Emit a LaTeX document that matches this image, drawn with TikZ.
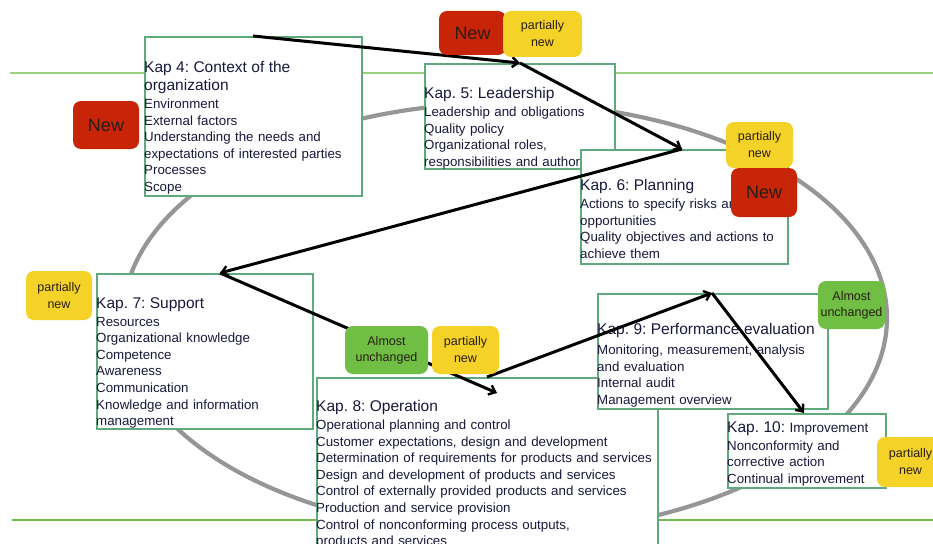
\documentclass[tikz,border=0pt]{standalone}
\usepackage{fontspec}
\setmainfont{Liberation Sans}
\usetikzlibrary{arrows.meta}
\frenchspacing
\definecolor{boxgreen}{RGB}{95,170,125}
\definecolor{topline}{RGB}{155,208,125}
\definecolor{botline}{RGB}{112,190,70}
\definecolor{ellgray}{RGB}{150,150,150}
\definecolor{badgered}{RGB}{200,36,8}
\definecolor{badgeyellow}{RGB}{244,210,40}
\definecolor{badgegreen}{RGB}{112,190,68}
\definecolor{ink}{RGB}{25,25,60}
\definecolor{badgeink}{RGB}{40,30,20}
\newcommand{\kaptitle}[2][1.2pt]{{\fontsize{15.5}{18}\selectfont #2\par}\vspace{#1}}
\tikzset{
  kapbox/.style={draw=boxgreen, line width=1.7pt, fill=white, anchor=north west, inner sep=0pt, rectangle},
  kaptext/.style={anchor=north west, inner sep=0pt, text width=360pt, align=left, text=ink,
    font={\fontsize{13.3}{16.6}\selectfont\parindent=0pt\parskip=0pt\frenchspacing}},
  badge/.style={rounded corners=8pt, inner sep=0pt, align=center, text=badgeink},
  newbadge/.style={badge, fill=badgered, font=\fontsize{18}{20}\selectfont},
  partbadge/.style={badge, fill=badgeyellow, font=\fontsize{12.5}{17}\selectfont},
  almostbadge/.style={badge, fill=badgegreen, font=\fontsize{12.5}{16}\selectfont},
  flow/.style={line width=3pt, black, -{Straight Barb[length=6pt,width=10pt,line width=2.4pt]}},
  greenline/.style={line width=2pt}
}
\begin{document}
\begin{tikzpicture}[x=1pt,y=-1pt]
\useasboundingbox (0,0) rectangle (933,543);
\clip (0,0) rectangle (933,543);
\fill[white] (0,0) rectangle (933,543);
% horizontal lines
\draw[greenline, topline] (10,73) -- (933,73);
\draw[greenline, botline, line width=2.6pt] (12,520) -- (933,520);
% cycle ellipse
\draw[ellgray, line width=4.2pt] (505,318) ellipse [x radius=382pt, y radius=215pt];
% boxes
\node[kapbox, minimum width=217pt, minimum height=159pt] (k4) at (144,36) {};
\node[kaptext] (k4t) at (144,61.3) {\kaptitle{Kap 4: Context of the\\organization}Environment\\External factors\\Understanding the needs and\\expectations of interested parties\\Processes\\Scope};
\node[kapbox, minimum width=190pt, minimum height=105pt] (k5) at (424,63) {};
\node[kaptext] (k5t) at (424,87.3) {\kaptitle{Kap. 5: Leadership}Leadership and obligations\\Quality policy\\Organizational roles,\\responsibilities and authorities};
\node[kapbox, minimum width=207pt, minimum height=114pt] (k6) at (580,149) {};
\node[kaptext] (k6t) at (580,179.3) {\kaptitle{Kap. 6: Planning}Actions to specify risks and\\opportunities\\Quality objectives and actions to\\achieve them};
\node[kapbox, minimum width=216pt, minimum height=155pt] (k7) at (96,273) {};
\node[kaptext] (k7t) at (96,297.3) {\kaptitle{Kap. 7: Support}Resources\\Organizational knowledge\\Competence\\Awareness\\Communication\\Knowledge and information\\management};
\node[kapbox, minimum width=341pt, minimum height=190pt] (k8) at (316,377) {};
\node[kaptext] (k8t) at (316,400.3) {\kaptitle{Kap. 8: Operation}Operational planning and control\\Customer expectations, design and development\\Determination of requirements for products and services\\Design and development of products and services\\Control of externally provided products and services\\Production and service provision\\Control of nonconforming process outputs,\\products and services};
\node[kapbox, minimum width=230pt, minimum height=115pt] (k9) at (597,293) {};
\node[kaptext] (k9t) at (597,323.3) {\kaptitle[3.2pt]{Kap. 9: Performance evaluation}Monitoring, measurement, analysis\\and evaluation\\Internal audit\\Management overview};
\node[kapbox, minimum width=158pt, minimum height=74pt] (k10) at (727,413) {};
\node[kaptext] (k10t) at (727,421.3) {\kaptitle{Kap. 10: {\fontsize{13.5}{18}\selectfont Improvement}}Nonconformity and\\corrective action\\Continual improvement};
% connector points
\coordinate (c1) at ([xshift=109pt]k4.north west);
\coordinate (c2) at ([xshift=96pt]k5.north west);
\coordinate (c3) at ([xshift=102pt]k6.north west);
\coordinate (c4) at ([xshift=124pt]k7.north west);
\coordinate (c5) at ([xshift=181pt,yshift=-16pt]k8.north west);
\coordinate (c6) at ([xshift=171pt]k8.north west);
\coordinate (c7) at ([xshift=115pt]k9.north west);
\coordinate (c8) at ([xshift=77pt]k10.north west);
% arrows
\draw[flow] (c1) -- (c2);
\draw[flow] (c2) -- (c3);
\draw[flow] (c3) -- (c4);
\draw[flow] (c4) -- (c5);
\draw[flow] (c6) -- (c7);
\draw[flow] (c7) -- (c8);
% badges
\node[newbadge, minimum width=67pt, minimum height=44pt] (b1) at (472.5,33) {New};
\node[partbadge, minimum width=79pt, minimum height=46pt] (b2) at (542.5,34) {partially\\new};
\node[newbadge, minimum width=66pt, minimum height=48pt] (b3) at (106,125) {New};
\node[partbadge, minimum width=67pt, minimum height=46pt] (b4) at (759.5,145) {partially\\new};
\node[newbadge, minimum width=66pt, minimum height=49pt] (b5) at (764,192.5) {New};
\node[partbadge, minimum width=66pt, minimum height=49pt] (b6) at (59,295.5) {partially\\new};
\node[almostbadge, minimum width=83pt, minimum height=48pt] (b7) at (386.5,350) {Almost\\unchanged};
\node[partbadge, minimum width=67pt, minimum height=48pt] (b8) at (465.5,350) {partially\\new};
\node[almostbadge, minimum width=67pt, minimum height=48pt] (b9) at (851.5,305) {Almost\\unchanged};
\node[partbadge, minimum width=67pt, minimum height=50pt] (b10) at (910.5,462) {partially\\new};
\end{tikzpicture}
\end{document}
